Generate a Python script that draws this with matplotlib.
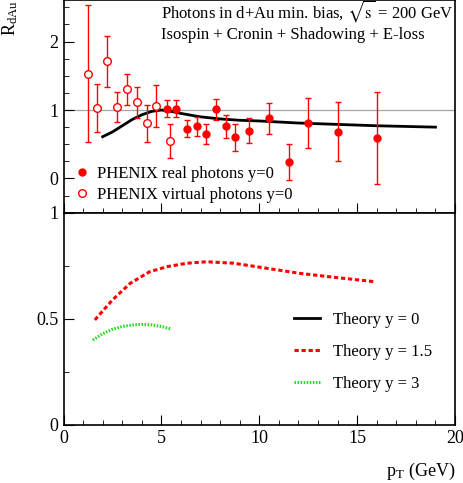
import numpy as np
import matplotlib
matplotlib.use('Agg')
from matplotlib import pyplot as plt
from matplotlib.lines import Line2D
from matplotlib.ticker import MultipleLocator, FixedLocator, FuncFormatter

plt.rcParams['font.family'] = ['Liberation Serif', 'DejaVu Serif']
plt.rcParams['mathtext.fontset'] = 'stix'

# PHENIX real photons, y=0
real_pt = [5.3, 5.75, 6.3, 6.8, 7.3, 7.8, 8.3, 8.75, 9.5, 10.5, 11.5, 12.5, 14.0, 16.0]
real_r = [1.02, 1.02, 0.73, 0.76, 0.65, 1.01, 0.76, 0.60, 0.70, 0.88, 0.245, 0.81, 0.68, 0.59]
real_err = [0.12, 0.12, 0.13, 0.135, 0.15, 0.155, 0.17, 0.195, 0.185, 0.225, 0.26, 0.365, 0.43, 0.67]

# PHENIX virtual photons, y=0
virt_pt = [1.24, 1.70, 2.22, 2.72, 3.23, 3.74, 4.24, 4.73, 5.44]
virt_r = [1.53, 1.03, 1.71, 1.05, 1.30, 1.11, 0.81, 1.06, 0.55]
virt_err = [1.0, 0.355, 0.37, 0.22, 0.225, 0.225, 0.27, 0.31, 0.25]

# theory curves
th0_pt = [2.0, 2.5, 3.0, 3.5, 4.0, 4.5, 5.0, 5.5, 6.0, 7.0, 8.0, 9.0, 10.0, 12.0, 14.0, 16.0, 19.0]
th0_r = [0.61, 0.68, 0.77, 0.86, 0.93, 0.98, 1.00, 0.98, 0.95, 0.90, 0.87, 0.85, 0.84, 0.81, 0.79, 0.77, 0.75]
th15_pt = [1.6, 2.5, 3.4, 4.4, 5.3, 6.3, 7.3, 8.7, 10.4, 12.1, 13.8, 15.9]
th15_r = [0.495, 0.589, 0.667, 0.722, 0.746, 0.762, 0.769, 0.762, 0.738, 0.714, 0.696, 0.675]
th3_pt = [1.5, 2.0, 2.5, 3.0, 3.5, 4.0, 4.5, 5.0, 5.5]
th3_r = [0.40, 0.43, 0.451, 0.464, 0.471, 0.474, 0.472, 0.464, 0.452]

fig = plt.figure(figsize=(4.64, 4.83), dpi=100)
ax1 = fig.add_axes([0.1369, 0.5596, 0.8438, 0.4394])
ax2 = fig.add_axes([0.1369, 0.1201, 0.8438, 0.4395])

fmt = FuncFormatter(lambda v, p: '%g' % v)
for ax in (ax1, ax2):
    ax.set_xlim(0, 20)
    ax.xaxis.set_major_locator(MultipleLocator(5))
    ax.xaxis.set_minor_locator(MultipleLocator(1))
    ax.yaxis.set_minor_locator(MultipleLocator(0.25))
    ax.yaxis.set_major_formatter(fmt)
    ax.tick_params(which='both', direction='in', top=False, right=False, labelsize=13)
    ax.tick_params(which='major', length=7)
    ax.tick_params(which='minor', length=3.6)
    for s in ax.spines.values():
        s.set_linewidth(1.2)

# top panel
ax1.set_ylim(-0.5, 2.6)
ax1.yaxis.set_major_locator(FixedLocator([0, 1, 2]))
ax1.tick_params(axis='x', labelbottom=False)
ax1.axhline(1, color='0.65', lw=0.9, zorder=1)
ax1.plot(th0_pt, th0_r, color='black', lw=2.0, zorder=2)
ax1.errorbar(real_pt, real_r, yerr=real_err, fmt='o', color='red', ms=5,
             capsize=2.5, elinewidth=1.0, capthick=1.0, zorder=3)
ax1.errorbar(virt_pt, virt_r, yerr=virt_err, fmt='o', color='red', mfc='white', ms=5.5,
             mew=1.0, capsize=2.5, elinewidth=1.0, capthick=1.0, zorder=3)
ax1.text(0.250, 0.948, r'Photons in d+Au min. bias, $\sqrt{\mathrm{s}}$ = 200 GeV',
         transform=ax1.transAxes, fontsize=12, va='center')
ax1.text(0.250, 0.836, 'Isospin + Cronin + Shadowing + E-loss',
         transform=ax1.transAxes, fontsize=12, va='center')
h_real = Line2D([], [], ls='none', marker='o', color='red', ms=5)
h_virt = Line2D([], [], ls='none', marker='o', color='red', mfc='white', ms=5.5)
ax1.legend([h_real, h_virt], ['PHENIX real photons y=0', 'PHENIX virtual photons y=0'],
           loc='lower left', bbox_to_anchor=(0.005, 0.005), frameon=False, fontsize=12,
           handlelength=1.0, handletextpad=0.38, labelspacing=0.3, borderpad=0)

# bottom panel
ax2.set_ylim(0, 1)
ax2.yaxis.set_major_locator(FixedLocator([0, 0.5, 1]))
l0, = ax2.plot([], [], color='black', lw=2.0)
l15, = ax2.plot(th15_pt, th15_r, color='red', lw=2.2, ls=(0, (1.4, 0.9)))
l3, = ax2.plot(th3_pt, th3_r, color='#22dd22', lw=2.2, ls=(0, (0.5, 0.5)))
ax2.legend([l0, l15, l3], ['Theory y = 0', 'Theory y = 1.5', 'Theory y = 3'],
           loc='upper left', bbox_to_anchor=(0.567, 0.57), frameon=False, fontsize=12,
           handlelength=1.55, handletextpad=0.82, labelspacing=0.95, borderpad=0)
ax2.set_xlabel(r'p$_\mathregular{T}$ (GeV)', fontsize=13, loc='right', labelpad=10)

fig.text(0.022, 0.999, r'R$_\mathregular{dAu}$', rotation=90, fontsize=13, ha='center', va='top')

fig.savefig('out.png', dpi=100)
